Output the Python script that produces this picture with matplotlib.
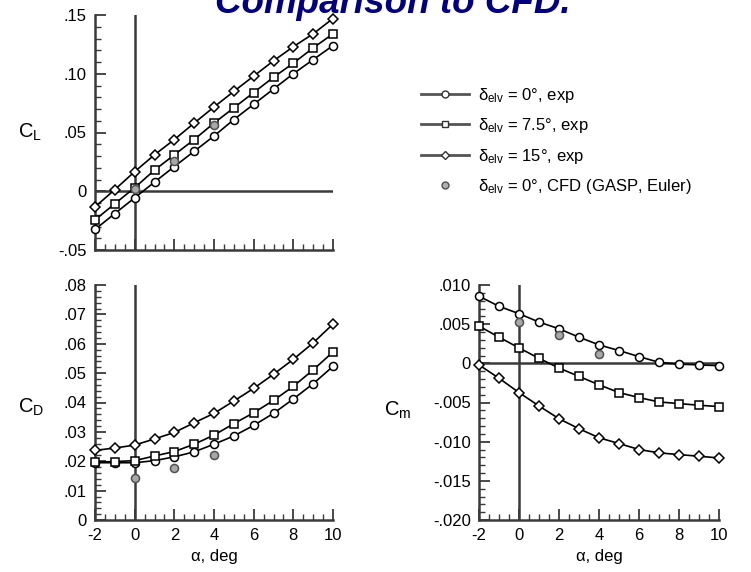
import matplotlib
matplotlib.use("Agg")
import matplotlib.pyplot as plt
from matplotlib.lines import Line2D
from matplotlib.ticker import FixedLocator, FixedFormatter, MultipleLocator

plt.rcParams['font.family'] = ['Liberation Sans', 'DejaVu Sans']
plt.rcParams['mathtext.fontset'] = 'custom'
plt.rcParams['mathtext.rm'] = 'Liberation Sans'
plt.rcParams['mathtext.it'] = 'Liberation Sans:italic'

# angle of attack, deg
alpha = [-2, -1, 0, 1, 2, 3, 4, 5, 6, 7, 8, 9, 10]
alpha_cfd = [0, 2, 4]

# lift coefficient
cl_0 = [-0.0325, -0.019, -0.0056, 0.0078, 0.021, 0.034, 0.047, 0.061, 0.074, 0.087, 0.100, 0.112, 0.124]
cl_75 = [-0.0244, -0.0106, 0.003, 0.018, 0.031, 0.044, 0.058, 0.071, 0.084, 0.097, 0.109, 0.122, 0.134]
cl_15 = [-0.0133, 0.0014, 0.0167, 0.031, 0.044, 0.058, 0.0717, 0.085, 0.098, 0.111, 0.123, 0.134, 0.147]
cl_cfd = [0.002, 0.0255, 0.056]

# drag coefficient
cd_0 = [0.0195, 0.0195, 0.0195, 0.0202, 0.0215, 0.0232, 0.0258, 0.0286, 0.0322, 0.0363, 0.0412, 0.0464, 0.0523]
cd_75 = [0.0197, 0.0199, 0.0202, 0.0218, 0.0233, 0.0258, 0.0289, 0.0328, 0.0365, 0.0407, 0.0455, 0.0511, 0.0572]
cd_15 = [0.0237, 0.0245, 0.0255, 0.0276, 0.0298, 0.0331, 0.0363, 0.0405, 0.0448, 0.0496, 0.0547, 0.0603, 0.0667]
cd_cfd = [0.0143, 0.0178, 0.0222]

# pitching moment coefficient
cm_0 = [0.00857, 0.00728, 0.00634, 0.00527, 0.00441, 0.00334, 0.00236, 0.00163, 0.00086, 0.00013, -0.0001, -0.0002, -0.0003]
cm_75 = [0.00475, 0.00334, 0.00197, 0.00064, -0.0006, -0.00167, -0.00274, -0.00373, -0.00437, -0.00493, -0.00514, -0.00535, -0.00552]
cm_15 = [-0.0002, -0.0019, -0.00373, -0.00544, -0.00707, -0.00835, -0.0095, -0.01024, -0.011, -0.01143, -0.01165, -0.01186, -0.01208]
cm_cfd = [0.00527, 0.00364, 0.0012]

x_ticks = [-2, 0, 2, 4, 6, 8, 10]
x_labels = ['-2', '0', '2', '4', '6', '8', '10']
cl_ticks = [-0.05, 0, 0.05, 0.10, 0.15]
cl_labels = ['-.05', '0', '.05', '.10', '.15']
cd_ticks = [0, 0.01, 0.02, 0.03, 0.04, 0.05, 0.06, 0.07, 0.08]
cd_labels = ['0', '.01', '.02', '.03', '.04', '.05', '.06', '.07', '.08']
cm_ticks = [-0.020, -0.015, -0.010, -0.005, 0, 0.005, 0.010]
cm_labels = ['-.020', '-.015', '-.010', '-.005', '0', '.005', '.010']

legend_labels = [r'$\mathregular{\delta_{elv}}$ = 0°, exp',
                 r'$\mathregular{\delta_{elv}}$ = 7.5°, exp',
                 r'$\mathregular{\delta_{elv}}$ = 15°, exp',
                 r'$\mathregular{\delta_{elv}}$ = 0°, CFD (GASP, Euler)']

W, H = 751, 572
fig = plt.figure(figsize=(W / 100, H / 100), dpi=100)
fig.patch.set_facecolor('white')

AX_COLOR = '#3a3a3a'
FS = 12


def px_axes(left, top, right, bottom):
    return fig.add_axes([left / W, 1 - bottom / H, (right - left) / W, (bottom - top) / H])


def style(ax, ylim, yt, yl, ymin, show_x):
    ax.set_xlim(-2, 10)
    ax.set_ylim(*ylim)
    for s in ('top', 'right'):
        ax.spines[s].set_visible(False)
    for s in ('left', 'bottom'):
        ax.spines[s].set_color(AX_COLOR)
        ax.spines[s].set_linewidth(1.8)
    ax.xaxis.set_major_locator(FixedLocator(x_ticks))
    ax.xaxis.set_minor_locator(MultipleLocator(0.5))
    ax.yaxis.set_major_locator(FixedLocator(yt))
    ax.yaxis.set_major_formatter(FixedFormatter(yl))
    ax.yaxis.set_minor_locator(MultipleLocator(ymin))
    if show_x:
        ax.xaxis.set_major_formatter(FixedFormatter(x_labels))
    else:
        ax.set_xticklabels([])
    ax.tick_params(which='major', direction='in', length=8, width=1.3,
                   color=AX_COLOR, labelsize=FS, pad=6)
    ax.tick_params(which='minor', direction='in', length=4, width=1.0, color=AX_COLOR)
    ax.patch.set_alpha(0)


def draw_series(ax, y0, y75, y15, ycfd):
    common = dict(color='black', lw=1.2, mfc='white', mec='black', mew=1.1,
                  ms=5.8, clip_on=False, zorder=4)
    ax.plot(alpha, y0, marker='o', **common)
    ax.plot(alpha, y75, marker='s', **dict(common, ms=5.3))
    ax.plot(alpha, y15, marker='D', **dict(common, ms=5.0))
    ax.plot(alpha_cfd, ycfd, ls='none', marker='o', ms=5.8, mfc='#a8a8a8',
            mec='#505050', mew=1.1, clip_on=False, zorder=5)


# C_L
ax1 = px_axes(95, 15, 333, 250)
style(ax1, (-0.05, 0.15), cl_ticks, cl_labels, 0.01, False)
ax1.axhline(0, color=AX_COLOR, lw=1.8, zorder=2)
ax1.axvline(0, color=AX_COLOR, lw=1.8, zorder=2)
draw_series(ax1, cl_0, cl_75, cl_15, cl_cfd)

# C_D
ax2 = px_axes(95, 285, 333, 520)
style(ax2, (0, 0.08), cd_ticks, cd_labels, 0.002, True)
ax2.axvline(0, color=AX_COLOR, lw=1.8, zorder=2)
draw_series(ax2, cd_0, cd_75, cd_15, cd_cfd)

# C_m
ax3 = px_axes(479, 285, 719, 520)
style(ax3, (-0.020, 0.010), cm_ticks, cm_labels, 0.001, True)
ax3.axhline(0, color=AX_COLOR, lw=1.8, zorder=2)
ax3.axvline(0, color=AX_COLOR, lw=1.8, zorder=2)
draw_series(ax3, cm_0, cm_75, cm_15, cm_cfd)

# axis names
fig.text(18 / W, 1 - 132 / H, r'C$_\mathregular{L}$', fontsize=14.5, va='center', ha='left')
fig.text(18 / W, 1 - 407 / H, r'C$_\mathregular{D}$', fontsize=14.5, va='center', ha='left')
fig.text(384 / W, 1 - 410 / H, r'C$_\mathregular{m}$', fontsize=14.5, va='center', ha='left')
fig.text(214 / W, 1 - 557 / H, 'α, deg', fontsize=FS, ha='center', va='center')
fig.text(599 / W, 1 - 557 / H, 'α, deg', fontsize=FS, ha='center', va='center')

# legend
lg_handles = [
    Line2D([], [], color='#555555', lw=2.0, marker='o', ms=5, mfc='white', mec='#333333', mew=1.0),
    Line2D([], [], color='#555555', lw=2.0, marker='s', ms=4.5, mfc='white', mec='#333333', mew=1.0),
    Line2D([], [], color='#555555', lw=2.0, marker='D', ms=4.5, mfc='white', mec='#333333', mew=1.0),
    Line2D([], [], ls='none', marker='o', ms=5, mfc='#b0b0b0', mec='#505050', mew=1.0),
]
fig.legend(lg_handles, legend_labels, loc='upper left',
           bbox_to_anchor=(421 / W, 1 - 86 / H), frameon=False, fontsize=FS,
           handlelength=2.9, handletextpad=0.55, labelspacing=0.68,
           borderpad=0, borderaxespad=0)

# slide heading, partly cut by the top edge
fig.text(393 / W, 1 - 13 / H, 'Comparison to CFD.', fontsize=26.5, fontweight='bold',
         fontstyle='italic', color='#000080', ha='center', va='baseline')

fig.savefig('out.png', dpi=100)
